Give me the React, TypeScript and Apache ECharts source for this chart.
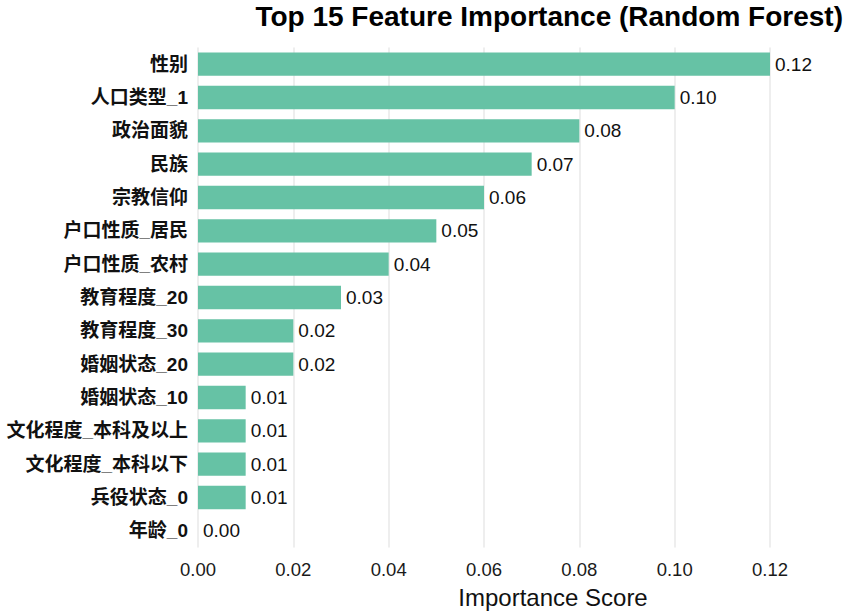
import React, { useEffect, useRef } from "react";
import * as echarts from "echarts";

const categories = [
  "性别",
  "人口类型_1",
  "政治面貌",
  "民族",
  "宗教信仰",
  "户口性质_居民",
  "户口性质_农村",
  "教育程度_20",
  "教育程度_30",
  "婚姻状态_20",
  "婚姻状态_10",
  "文化程度_本科及以上",
  "文化程度_本科以下",
  "兵役状态_0",
  "年龄_0",
];
const importance = [0.12, 0.10, 0.08, 0.07, 0.06, 0.05, 0.04, 0.03, 0.02, 0.02, 0.01, 0.01, 0.01, 0.01, 0.0];

export default function App() {
  const ref = useRef<HTMLDivElement>(null);
  useEffect(() => {
    if (!ref.current) return;
    const chart = echarts.init(ref.current, undefined, { renderer: "svg" });
    chart.setOption({
      animation: false,
      backgroundColor: "#ffffff",
      title: {
        text: "Top 15 Feature Importance (Random Forest)",
        right: 22,
        top: 2,
        padding: 0,
        textStyle: {
          fontFamily: "Liberation Sans, Arial, sans-serif",
          fontWeight: "bold",
          fontSize: 28,
          color: "#000",
        },
      },
      grid: { left: 198, right: 95, top: 47.5, bottom: 68.5 },
      xAxis: {
        type: "value",
        min: 0,
        max: 0.12,
        interval: 0.02,
        name: "Importance Score",
        nameLocation: "middle",
        nameGap: 38,
        nameTextStyle: {
          fontFamily: "Liberation Sans, Arial, sans-serif",
          fontSize: 24,
          color: "#111",
          padding: [0, 0, 0, 138],
        },
        axisLine: { show: false },
        axisTick: { show: false },
        axisLabel: {
          formatter: (v: number) => v.toFixed(2),
          fontFamily: "Liberation Sans, Arial, sans-serif",
          fontSize: 18.5,
          color: "#1a1a1a",
          margin: 12,
        },
        splitLine: { show: true, lineStyle: { color: "#e8e8e8", width: 1.5 } },
      },
      yAxis: {
        type: "category",
        data: categories,
        inverse: true,
        axisLine: { show: false },
        axisTick: { show: false },
        axisLabel: {
          fontFamily: "Liberation Sans, Noto Sans CJK SC, sans-serif",
          fontWeight: "bold",
          fontSize: 19,
          color: "#111",
          margin: 10,
        },
        splitLine: { show: false },
      },
      series: [
        {
          type: "bar",
          data: importance,
          barWidth: "70%",
          itemStyle: { color: "#66c2a5" },
          label: {
            show: true,
            position: "right",
            distance: 5,
            formatter: (p: any) => Number(p.value).toFixed(2),
            fontFamily: "Liberation Sans, Arial, sans-serif",
            fontSize: 19,
            color: "#111",
          },
        },
      ],
    });
    return () => chart.dispose();
  }, []);
  return (
    <div
      ref={ref}
      style={{ position: "absolute", left: 0, top: 0, width: 865, height: 616 }}
    />
  );
}
